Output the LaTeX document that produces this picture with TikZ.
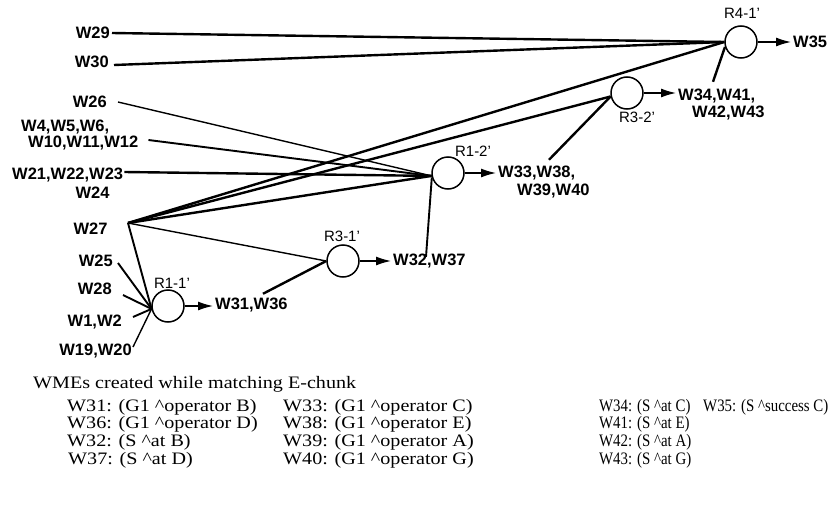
\documentclass[tikz,border=0pt]{standalone}
\usepackage{fontspec}
\usepackage{graphicx}
\newfontfamily\lsans{Liberation Sans}
\newfontfamily\lserif{Liberation Serif}
\usetikzlibrary{arrows.meta}
\newcommand{\widetxt}[1]{\scalebox{1.15}[1]{#1}}
\newcommand{\narrowtxt}[1]{\scalebox{0.85}[1]{#1}}
\begin{document}
\begin{tikzpicture}[x=1pt,y=-1pt,
  wl/.style={font=\lsans\bfseries\fontsize{16.5}{16.5}\selectfont, inner sep=2pt},
  rl/.style={font=\lsans\fontsize{15}{15}\selectfont, inner sep=0pt},
  rulecirc/.style={circle, draw, line width=1.5pt, minimum size=32pt, inner sep=0pt},
  thk/.style={line width=2.4pt},
  med/.style={line width=1.9pt},
  thn/.style={line width=1.4pt},
  arr/.style={line width=1.3pt, -{Latex[length=15pt,width=9pt]}},
  tb/.style={font=\lserif\fontsize{17.5}{17.5}\selectfont, inner sep=0pt, anchor=base west},
]
\useasboundingbox (0,0) rectangle (830,506);

% rule nodes
\node[rulecirc] (R41) at (741,42) {};
\node[rulecirc] (R32) at (627,93) {};
\node[rulecirc] (R12) at (448,173) {};
\node[rulecirc] (R31) at (343,261) {};
\node[rulecirc] (R11) at (168,306) {};

\node[rl] (R41l) at (742,13.5) {R4-1’};
\node[rl] (R32l) at (637,117.5) {R3-2’};
\node[rl] (R12l) at (473,151) {R1-2’};
\node[rl] (R31l) at (342,236) {R3-1’};
\node[rl] (R11l) at (172,283) {R1-1’};

% input labels
\node[wl, anchor=east] (W29) at (112,33) {W29};
\node[wl, anchor=east] (W30) at (111,62) {W30};
\node[wl, anchor=east] (W26) at (109,102) {W26};
\node[wl, anchor=west] (W456) at (19,127) {W4,W5,W6,};
\node[wl, anchor=west] (W1012) at (26,143) {W10,W11,W12};
\node[wl, anchor=west] (W2123) at (10,175) {W21,W22,W23};
\node[wl] (W24) at (92.5,193) {W24};
\node[wl] (W27) at (90.5,229) {W27};
\coordinate (w27p) at (128,223);
\node[wl, anchor=east] (W25) at (115,261) {W25};
\node[wl, anchor=east] (W28) at (114,289) {W28};
\node[wl, anchor=east] (W12x) at (124,322) {W1,W2};
\node[wl, anchor=east] (W1920) at (134,351) {W19,W20};

% output labels
\node[wl, anchor=west] (W35) at (791,42) {W35};
\node[wl, anchor=west] (W3441) at (676,96) {W34,W41,};
\node[wl, anchor=west] (W4243) at (690,113) {W42,W43};
\node[wl, anchor=west] (W3338) at (496,173) {W33,W38,};
\node[wl, anchor=west] (W3940) at (515,191) {W39,W40};
\node[wl, anchor=west] (W3237) at (391,261) {W32,W37};
\node[wl, anchor=west] (W3136) at (213,305) {W31,W36};

% connectors into R4-1'
\draw[thk] (W29.east) -- (R41.west);
\draw[thk] ([shift={(3,3)}]W30.east) -- (R41.west);
\draw[thk] (w27p) -- (R41.west);
\draw[thk] ([shift={(37,-5)}]W3441.north west) -- (R41.197);

% into R3-2'
\draw[thk] (w27p) -- (R32.192);
\draw[thk] ([shift={(53,-4)}]W3338.north west) -- (R32.192);

% into R1-2'
\draw[thn] ([xshift=9pt]W26.east) -- (R12.190);
\draw[med] ([shift={(8,-3)}]W1012.east) -- (R12.190);
\draw[thk] ([shift={(-1,-3)}]W2123.east) -- (R12.190);
\draw[thk] (w27p) -- (R12.190);
\draw[med] ([shift={(35,5)}]W3237.north west) -- (R12.195);

% into R3-1'
\draw[thn] (w27p) -- (R31.west);
\draw[thk] ([shift={(50,-2)}]W3136.north west) -- (R31.west);

% into R1-1'
\draw[med] (w27p) -- (R11.190);
\draw[med] ([shift={(3,2)}]W25.east) -- (R11.190);
\draw[med] ([shift={(9,6)}]W28.east) -- (R11.190);
\draw[med] ([shift={(9,-5)}]W12x.east) -- (R11.190);
\draw[thn] ([shift={(-1,-4)}]W1920.east) -- (R11.190);

% outputs
\draw[arr] (R41.east) -- (R41.east -| W35.west);
\draw[arr] (R32.east) -- (R32.east -| W3441.west);
\draw[arr] (R12.east) -- (R12.east -| W3338.west);
\draw[arr] (R31.east) -- (R31.east -| W3237.west);
\draw[arr] (R11.east) -- (R11.east -| W3136.west);

% legend
\node[tb] (head) at (33,388) {\widetxt{WMEs created while matching E-chunk}};
\node[tb] (a1) at (67,411) {\widetxt{W31: (G1 \textasciicircum operator B)}};
\node[tb] (a2) at (67,428.7) {\widetxt{W36: (G1 \textasciicircum operator D)}};
\node[tb] (a3) at (67,446.3) {\widetxt{W32: (S \textasciicircum at B)}};
\node[tb] (a4) at (68,464) {\widetxt{W37: (S \textasciicircum at D)}};
\node[tb] (b1) at (283,411) {\widetxt{W33: (G1 \textasciicircum operator C)}};
\node[tb] (b2) at (283,428.7) {\widetxt{W38: (G1 \textasciicircum operator E)}};
\node[tb] (b3) at (283,446.3) {\widetxt{W39: (G1 \textasciicircum operator A)}};
\node[tb] (b4) at (283,464) {\widetxt{W40: (G1 \textasciicircum operator G)}};
\node[tb] (c1) at (599,411) {\narrowtxt{W34: (S \textasciicircum at C)}};
\node[tb] (c2) at (599,428.7) {\narrowtxt{W41: (S \textasciicircum at E)}};
\node[tb] (c3) at (599,446.3) {\narrowtxt{W42: (S \textasciicircum at A)}};
\node[tb] (c4) at (599,464) {\narrowtxt{W43: (S \textasciicircum at G)}};
\node[tb] (d1) at (703,411) {\narrowtxt{W35: (S \textasciicircum success C)}};
\end{tikzpicture}
\end{document}
